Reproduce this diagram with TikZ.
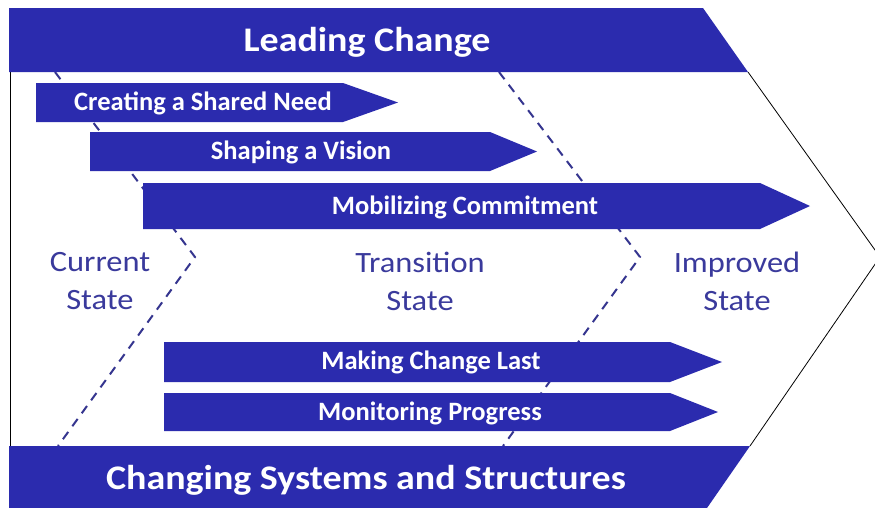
\documentclass[tikz,border=0pt]{standalone}
\usepackage{fontspec}
\setmainfont{Carlito}
\newfontfamily\widetitle[FakeStretch=1.1]{Carlito}
\newfontfamily\widestate[FakeStretch=1.1]{Carlito}
\definecolor{bandblue}{HTML}{2B2BAE}
\definecolor{dashnavy}{HTML}{35358F}
\definecolor{statecol}{HTML}{3A3A9C}
\begin{document}
\begin{tikzpicture}[x=1pt,y=-1pt,
  band/.style={fill=bandblue,draw=none},
  bandtext/.style={text=white,font=\widetitle\fontsize{34.5}{34.5}\selectfont\bfseries,inner sep=0pt},
  arrowtext/.style={text=white,font=\fontsize{26.5}{26.5}\selectfont\bfseries,inner sep=0pt},
  statetext/.style={text=statecol,font=\widestate\fontsize{29.5}{38}\selectfont,align=center,inner sep=0pt},
  divider/.style={draw=dashnavy,line width=2pt,dash pattern=on 9pt off 7pt}]
\useasboundingbox (0,0) rectangle (875,507);
\fill[white] (0,0) rectangle (875,507);
\clip (0,0) rectangle (875,507);
% outline of the big chevron
\coordinate (tl) at (10,72);
\coordinate (bl) at (10,446);
\coordinate (tr) at (748,72);
\coordinate (tip) at (880,257);
\coordinate (br) at (750,446);
\draw[black,line width=0.8pt] (tl) -- (bl);
\draw[black,line width=0.8pt] (tr) -- (tip) -- (br);
% dashed dividers
\coordinate (d1a) at (55,72);
\coordinate (d1b) at (195,257);
\coordinate (d1c) at (58,446);
\coordinate (d2a) at (499,72);
\coordinate (d2b) at (640,257);
\coordinate (d2c) at (503,446);
\draw[divider] (d1a) -- (d1b) -- (d1c);
\draw[divider] (d2a) -- (d2b) -- (d2c);
% bands
\fill[band] (9,8) -- (703,8) -- (748,72) -- (9,72) -- cycle;
\fill[band] (9,446) -- (750,446) -- (707,508) -- (9,508) -- cycle;
\node[bandtext] (lead) at (367,42) {Leading Change};
\node[bandtext] (sys) at (366,480) {Changing Systems and Structures};
% arrows
\fill[band] (36,83) -- (343,83) -- (398,102.5) -- (343,122) -- (36,122) -- cycle;
\fill[band] (90,132) -- (490,132) -- (537,151.5) -- (490,171) -- (90,171) -- cycle;
\fill[band] (143,183) -- (760,183) -- (810,206) -- (760,229) -- (143,229) -- cycle;
\fill[band] (164,342) -- (670,342) -- (722,362) -- (670,382) -- (164,382) -- cycle;
\fill[band] (164,393) -- (670,393) -- (718,412) -- (670,431) -- (164,431) -- cycle;
\node[arrowtext] (need) at (203,103) {Creating a Shared Need};
\node[arrowtext] (vision) at (301,152) {Shaping a Vision};
\node[arrowtext] (commit) at (465,207) {Mobilizing Commitment};
\node[arrowtext] (last) at (431,362) {Making Change Last};
\node[arrowtext] (monitor) at (430,413) {Monitoring Progress};
% states
\node[statetext] (cur) at (100,281) {Current\\State};
\node[statetext] (trans) at (420,281) {Transition\\State};
\node[statetext] (impr) at (737,281) {Improved\\State};
\end{tikzpicture}
\end{document}
